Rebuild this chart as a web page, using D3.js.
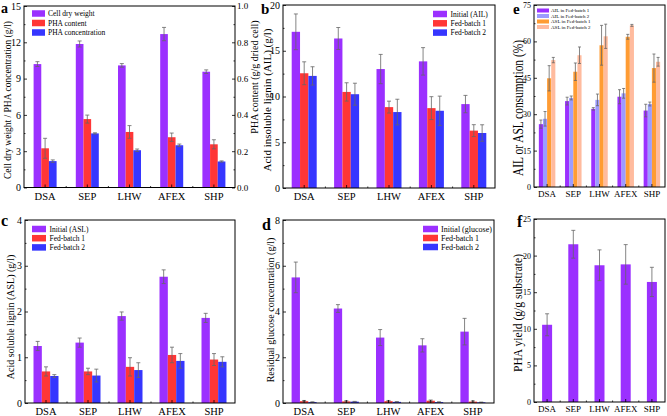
<!DOCTYPE html>
<html><head><meta charset="utf-8">
<script src="https://cdn.jsdelivr.net/npm/d3@7"></script>
<style>
body{margin:0;background:#fff}
svg{display:block}
text{font-family:"Liberation Serif","Times New Roman",serif;fill:#000}
</style>
</head><body>
<svg id="chart" width="667" height="416"></svg>
<script>
// ---------- data ----------
const categories = ["DSA", "SEP", "LHW", "AFEX", "SHP"];

// panel a
const cellDryWeight = [10.2, 11.86, 10.09, 12.68, 9.57];
const cellDryWeightErr = [0.2, 0.25, 0.15, 0.55, 0.15];
const phaContent = [0.216, 0.377, 0.306, 0.277, 0.238];
const phaContentErr = [0.055, 0.022, 0.035, 0.023, 0.025];
const phaConcentration = [2.18, 4.47, 3.08, 3.49, 2.15];
const phaConcentrationErr = [0.1, 0.05, 0.1, 0.1, 0.05];

// panel b
const ailInitial = [17.07, 16.34, 13.0, 13.84, 9.17];
const ailInitialErr = [1.95, 1.2, 1.6, 1.5, 0.95];
const ailFed1 = [12.54, 10.5, 8.84, 8.73, 6.27];
const ailFed1Err = [1.25, 1.0, 0.65, 1.25, 0.65];
const ailFed2 = [12.25, 10.25, 8.3, 8.44, 6.01];
const ailFed2Err = [1.0, 1.2, 1.4, 1.6, 0.9];

// panel c
const aslInitial = [1.246, 1.32, 1.9, 2.76, 1.86];
const aslInitialErr = [0.1, 0.1, 0.09, 0.15, 0.1];
const aslFed1 = [0.69, 0.69, 0.79, 1.05, 0.95];
const aslFed1Err = [0.1, 0.07, 0.2, 0.17, 0.13];
const aslFed2 = [0.59, 0.6, 0.72, 0.92, 0.9];
const aslFed2Err = [0.03, 0.14, 0.16, 0.16, 0.11];

// panel d
const glucoseInitial = [5.49, 4.13, 2.86, 2.52, 3.12];
const glucoseInitialErr = [0.67, 0.17, 0.35, 0.29, 0.58];
const glucoseFed1 = [0.08, 0.07, 0.08, 0.1, 0.06];
const glucoseFed1Err = [0.03, 0.03, 0.03, 0.03, 0.03];
const glucoseFed2 = [0.04, 0.06, 0.05, 0.04, 0.03];
const glucoseFed2Err = [0.01, 0.01, 0.01, 0.01, 0.01];

// panel e
const ailConsFed1 = [25.9, 35.4, 32.2, 37.2, 31.5];
const ailConsFed1Err = [1.7, 1.6, 0.5, 2.9, 2.6];
const ailConsFed2 = [28.1, 36.7, 35.9, 38.6, 34.2];
const ailConsFed2Err = [3.0, 0.8, 2.4, 2.0, 0.8];
const aslConsFed1 = [44.8, 47.5, 58.4, 61.9, 49.0];
const aslConsFed1Err = [5.2, 3.6, 8.2, 1.0, 5.8];
const aslConsFed2 = [52.3, 54.3, 62.1, 66.6, 51.6];
const aslConsFed2Err = [1.1, 3.4, 5.0, 0.4, 1.8];

// panel f
const phaYield = [10.55, 21.55, 18.68, 18.8, 16.4];
const phaYieldErr = [1.5, 1.9, 2.1, 2.7, 2.0];

// tick labels
const ticksA = [0, 3, 6, 9, 12, 15];
const ticksARight = [0, 0.2, 0.4, 0.6, 0.8, 1.0];
const ticksB = [0, 5, 10, 15, 20];
const ticksC = [0, 1, 2, 3, 4];
const ticksD = [0, 2, 4, 6, 8];
const ticksE = [0, 15, 30, 45, 60, 75];
const ticksF = [0, 5, 10, 15, 20, 25];

// ---------- drawing ----------
const PURPLE = "#9B30FF", RED = "#FF3636", BLUE = "#3636FF";
const LPURPLE = "#9C9CFF", ORANGE = "#FF9C33", PEACH = "#FFBB9E";
const svg = d3.select("#chart");

function minorVals(ticks) {
  const out = [];
  for (let i = 0; i < ticks.length - 1; i++) out.push((ticks[i] + ticks[i + 1]) / 2);
  return out;
}

function panel(o) {
  const g = svg.append("g");
  const x = d3.scaleBand().domain(categories).range([o.L, o.R]).padding(0);
  const y = d3.scaleLinear().domain([0, o.yMax]).range([o.B, o.T]);
  const inner = d3.scaleBand().domain(d3.range(o.series.length)).range([-o.gw / 2, o.gw / 2]);

  o.series.forEach((s, si) => {
    const ys = s.scale || y;
    const gs = g.append("g");
    gs.selectAll("rect").data(s.values).join("rect")
      .attr("x", (d, i) => x(categories[i]) + x.bandwidth() / 2 + inner(si))
      .attr("width", inner.bandwidth())
      .attr("y", d => ys(d))
      .attr("height", d => o.B - ys(d))
      .attr("fill", s.color);
  });
  // error bars
  o.series.forEach((s, si) => {
    const ys = s.scale || y;
    const ge = g.append("g").attr("stroke", "#666").attr("stroke-width", 0.8).attr("fill", "none");
    s.values.forEach((v, i) => {
      const cx = x(categories[i]) + x.bandwidth() / 2 + inner(si) + inner.bandwidth() / 2;
      const e = s.errs[i];
      const y1 = ys(v + e), y2 = ys(Math.max(0, v - e));
      const cw = o.cap;
      ge.append("line").attr("x1", cx).attr("x2", cx).attr("y1", y1).attr("y2", y2);
      ge.append("line").attr("x1", cx - cw).attr("x2", cx + cw).attr("y1", y1).attr("y2", y1);
      ge.append("line").attr("x1", cx - cw).attr("x2", cx + cw).attr("y1", y2).attr("y2", y2);
    });
  });

  // frame
  g.append("rect").attr("x", o.L).attr("y", o.T).attr("width", o.R - o.L).attr("height", o.B - o.T)
    .attr("fill", "none").attr("stroke", "#000").attr("stroke-width", 1);

  // left axis
  const ax = g.append("g").attr("transform", `translate(${o.L},0)`)
    .call(d3.axisLeft(y).tickValues(o.ticks).tickSize(-3).tickPadding(3).tickFormat(o.fmt || d3.format("d")));
  ax.select(".domain").remove();
  ax.selectAll("text").style("font-size", o.tickFont + "px").style("font-family", null);
  ax.selectAll("line").attr("stroke-width", 0.8);
  const axm = g.append("g").attr("transform", `translate(${o.L},0)`)
    .call(d3.axisLeft(y).tickValues(minorVals(o.ticks)).tickSize(-1.5).tickFormat(""));
  axm.select(".domain").remove();
  axm.selectAll("line").attr("stroke-width", 0.8);

  // bottom axis
  const bx = g.append("g").attr("transform", `translate(0,${o.B})`)
    .call(d3.axisBottom(x).tickSize(-3).tickPadding(o.xPad));
  bx.select(".domain").remove();
  bx.selectAll("text").style("font-size", o.xFont + "px").style("font-family", null);
  bx.selectAll("line").attr("stroke-width", 0.8);
  const edges = categories.slice(1).map(c => x(c));
  g.append("g").selectAll("line").data(edges).join("line")
    .attr("x1", d => d).attr("x2", d => d).attr("y1", o.B).attr("y2", o.B - 1.5)
    .attr("stroke", "#000").attr("stroke-width", 0.8);

  // right axis (secondary)
  if (o.right) {
    const r = o.right;
    const rx = g.append("g").attr("transform", `translate(${o.R},0)`)
      .call(d3.axisRight(r.scale).tickValues(r.ticks).tickSize(-3).tickPadding(2).tickFormat(d3.format(".1f")));
    rx.select(".domain").remove();
    rx.selectAll("text").style("font-size", r.tickFont + "px").style("font-family", null);
    rx.selectAll("line").attr("stroke-width", 0.8);
    const rxm = g.append("g").attr("transform", `translate(${o.R},0)`)
      .call(d3.axisRight(r.scale).tickValues(minorVals(r.ticks)).tickSize(-1.5).tickFormat(""));
    rxm.select(".domain").remove();
    rxm.selectAll("line").attr("stroke-width", 0.8);
    g.append("text").attr("transform", `translate(${r.titleX},${r.titleY}) rotate(-90)`)
      .attr("text-anchor", "middle").style("font-size", r.titleFont + "px").text(r.title);
  }

  // y title
  const yt = g.append("text").attr("transform", `translate(${o.titleX},${o.titleY}) rotate(-90)`)
    .attr("text-anchor", "middle").style("font-size", o.titleFont + "px").text(o.title);
  if (o.titleLen) yt.attr("textLength", o.titleLen).attr("lengthAdjust", "spacingAndGlyphs");

  // panel letter
  g.append("text").attr("x", o.letterX).attr("y", o.letterY).style("font-size", (o.letterFont || 16) + "px")
    .style("font-weight", "bold").text(o.letter);

  // legend
  if (o.legend) {
    const lg = o.legend;
    o.series.forEach((s, si) => {
      const cy = lg.y + si * lg.dy;
      g.append("rect").attr("x", lg.x).attr("y", cy - lg.sh / 2).attr("width", lg.sw).attr("height", lg.sh).attr("fill", s.color);
      g.append("text").attr("x", lg.x + lg.sw + lg.gap).attr("y", cy).attr("dy", "0.35em")
        .style("font-size", lg.font + "px").text(s.name);
    });
  }
  return {x, y};
}

// panel a
const yRightA = d3.scaleLinear().domain([0, 1]).range([187.5, 6]);
panel({
  L: 24, R: 235, T: 6, B: 187.5, yMax: 15, ticks: ticksA, gw: 23, cap: 2,
  series: [
    {name: "Cell dry weight", values: cellDryWeight, errs: cellDryWeightErr, color: PURPLE},
    {name: "PHA content", values: phaContent, errs: phaContentErr, color: RED, scale: yRightA},
    {name: "PHA concentration", values: phaConcentration, errs: phaConcentrationErr, color: BLUE}
  ],
  right: {scale: yRightA, ticks: ticksARight, tickFont: 9, title: "PHA content (g/g dried cell)", titleX: 257.5, titleY: 77, titleFont: 10},
  tickFont: 10, xFont: 10.5, xPad: 5,
  title: "Cell dry weight / PHA concentration (g/l)", titleX: 11, titleY: 100, titleFont: 10, titleLen: 158,
  letter: "a", letterX: 1, letterY: 12.5, letterFont: 14,
  legend: {x: 32, y: 13.5, dy: 9.5, sw: 13, sh: 6.5, gap: 3, font: 7.5}
});

// panel b
panel({
  L: 283, R: 495, T: 5, B: 188, yMax: 20, ticks: ticksB, gw: 25, cap: 2,
  series: [
    {name: "Initial (AIL)", values: ailInitial, errs: ailInitialErr, color: PURPLE},
    {name: "Fed-batch 1", values: ailFed1, errs: ailFed1Err, color: RED},
    {name: "Fed-batch 2", values: ailFed2, errs: ailFed2Err, color: BLUE}
  ],
  tickFont: 10, xFont: 10.5, xPad: 5,
  title: "Acid insoluble lignin (AIL) (g/l)", titleX: 271, titleY: 100, titleFont: 11,
  letter: "b", letterX: 261, letterY: 13.5, letterFont: 15,
  legend: {x: 433, y: 14, dy: 9.3, sw: 14, sh: 6.5, gap: 3.5, font: 7.5}
});

// panel e
panel({
  L: 534, R: 665, T: 5, B: 187, yMax: 75, ticks: ticksE, gw: 16.5, cap: 1.5,
  series: [
    {name: "AIL in Fed-batch 1", values: ailConsFed1, errs: ailConsFed1Err, color: PURPLE},
    {name: "AIL in Fed-batch 2", values: ailConsFed2, errs: ailConsFed2Err, color: LPURPLE},
    {name: "ASL in Fed-batch 1", values: aslConsFed1, errs: aslConsFed1Err, color: ORANGE},
    {name: "ASL in Fed-batch 2", values: aslConsFed2, errs: aslConsFed2Err, color: PEACH}
  ],
  tickFont: 8, xFont: 9, xPad: 4,
  title: "AIL or ASL consumption (%)", titleX: 523, titleY: 108, titleFont: 14, titleLen: 136,
  letter: "e", letterX: 513, letterY: 13.5, letterFont: 15,
  legend: {x: 537, y: 10.5, dy: 5.5, sw: 12, sh: 4, gap: 2, font: 5}
});

// panel c
panel({
  L: 25, R: 235, T: 220, B: 403, yMax: 4, ticks: ticksC, gw: 25, cap: 2,
  series: [
    {name: "Initial (ASL)", values: aslInitial, errs: aslInitialErr, color: PURPLE},
    {name: "Fed-batch 1", values: aslFed1, errs: aslFed1Err, color: RED},
    {name: "Fed-batch 2", values: aslFed2, errs: aslFed2Err, color: BLUE}
  ],
  tickFont: 10, xFont: 10.5, xPad: 5,
  title: "Acid soluble lignin (ASL) (g/l)", titleX: 14, titleY: 317, titleFont: 10,
  letter: "c", letterX: 1, letterY: 226,
  legend: {x: 32, y: 229, dy: 9.2, sw: 14, sh: 6.5, gap: 3.5, font: 7.5}
});

// panel d
panel({
  L: 283, R: 494, T: 220, B: 403, yMax: 8, ticks: ticksD, gw: 25, cap: 2,
  series: [
    {name: "Initial (glucose)", values: glucoseInitial, errs: glucoseInitialErr, color: PURPLE},
    {name: "Fed-batch 1", values: glucoseFed1, errs: glucoseFed1Err, color: RED},
    {name: "Fed-batch 2", values: glucoseFed2, errs: glucoseFed2Err, color: BLUE}
  ],
  tickFont: 10, xFont: 10.5, xPad: 5,
  title: "Residual glucose concentration (g/l)", titleX: 273.5, titleY: 310, titleFont: 10,
  letter: "d", letterX: 262, letterY: 230,
  legend: {x: 423, y: 229, dy: 9, sw: 15, sh: 6.5, gap: 3, font: 8}
});

// panel f
panel({
  L: 534, R: 665, T: 219, B: 402, yMax: 25, ticks: ticksF, gw: 10, cap: 2,
  series: [
    {name: "PHA yield", values: phaYield, errs: phaYieldErr, color: PURPLE}
  ],
  tickFont: 8, xFont: 9, xPad: 4,
  title: "PHA yield (g/g substrate)", titleX: 522, titleY: 313, titleFont: 13, titleLen: 118,
  letter: "f", letterX: 517, letterY: 227
});
</script>
</body></html>
